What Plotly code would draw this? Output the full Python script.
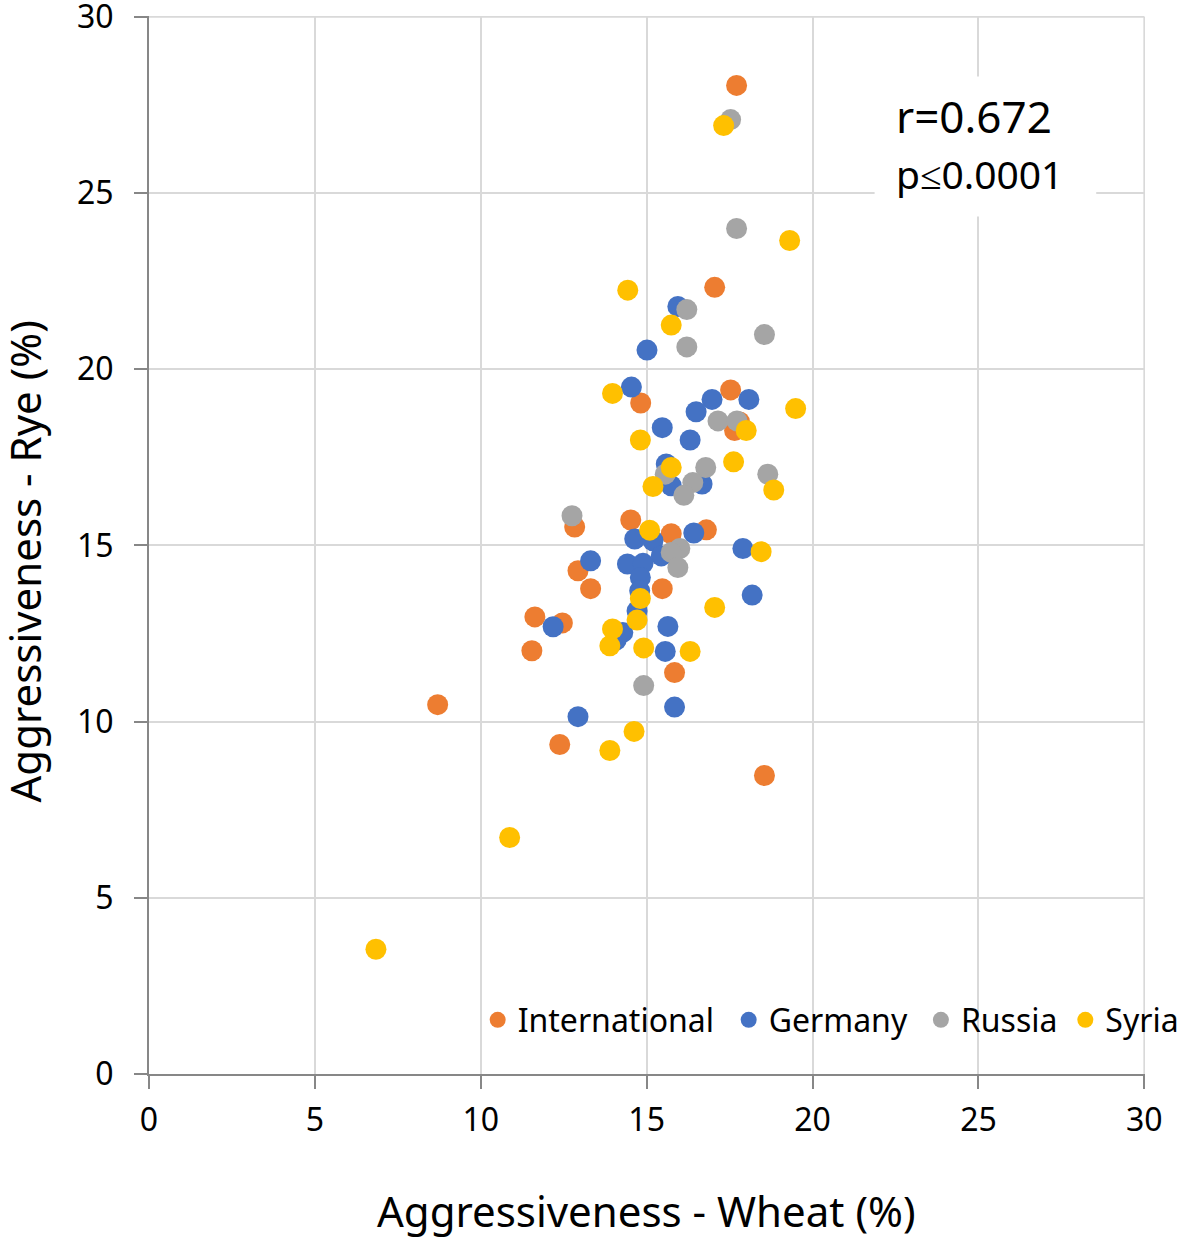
import plotly.graph_objects as go

# International
intl_x = [17.71, 17.05, 17.53, 14.82, 17.80, 17.65, 12.83, 14.52, 15.74, 16.80, 12.93, 13.31, 15.47, 11.63, 12.46, 11.54, 15.84, 8.70, 12.38, 18.55]
intl_y = [28.05, 22.32, 19.41, 19.04, 18.50, 18.26, 15.52, 15.72, 15.33, 15.44, 14.28, 13.77, 13.77, 12.97, 12.80, 12.01, 11.39, 10.48, 9.35, 8.47]

# Germany
ger_x = [15.94, 15.01, 14.54, 16.97, 18.08, 16.49, 15.47, 16.31, 15.59, 15.74, 16.67,
         14.64, 15.19, 16.42, 17.90, 15.44, 13.31, 14.42, 14.89, 14.81, 14.79, 18.18,
         14.71, 15.64, 12.18, 14.28, 14.08, 15.56, 15.84, 12.93]
ger_y = [21.78, 20.54, 19.49, 19.14, 19.14, 18.79, 18.34, 17.99, 17.31, 16.69, 16.74,
         15.18, 15.13, 15.35, 14.91, 14.70, 14.56, 14.47, 14.49, 14.09, 13.71, 13.59,
         13.14, 12.70, 12.69, 12.53, 12.31, 11.99, 10.41, 10.14]

# Russia
rus_x = [17.53, 17.71, 16.21, 16.21, 18.55, 17.15, 17.72, 18.65, 16.78, 16.39, 16.12, 15.56, 12.75, 16.00, 15.74, 15.94, 14.91]
rus_y = [27.08, 23.99, 21.69, 20.63, 20.98, 18.53, 18.53, 17.02, 17.21, 16.78, 16.42, 17.02, 15.84, 14.91, 14.80, 14.37, 11.02]

# Syria
syr_x = [17.32, 19.31, 14.43, 15.74, 13.97, 19.49, 18.00, 14.81, 17.62, 15.74, 18.83, 15.19,
         15.09, 18.45, 14.81, 17.05, 14.71, 13.97, 13.89, 14.91, 16.31, 14.62, 13.89, 10.87, 6.84]
syr_y = [26.91, 23.65, 22.24, 21.25, 19.31, 18.88, 18.26, 17.99, 17.37, 17.21, 16.57, 16.67,
         15.43, 14.82, 13.49, 13.24, 12.88, 12.63, 12.15, 12.09, 11.99, 9.72, 9.18, 6.71, 3.54]

tick_vals = [0, 5, 10, 15, 20, 25, 30]
x_title = "Aggressiveness - Wheat (%)"
y_title = "Aggressiveness - Rye (%)"

FONT = "Noto Sans"
series = [
    ("International", intl_x, intl_y, "#ED7D31", "legend", 0.330),
    ("Germany", ger_x, ger_y, "#4472C4", "legend2", 0.582),
    ("Russia", rus_x, rus_y, "#A5A5A5", "legend3", 0.775),
    ("Syria", syr_x, syr_y, "#FFC000", "legend4", 0.920),
]

fig = go.Figure()
legend_layouts = {}
for name, xs, ys, col, leg, lx in series:
    fig.add_trace(go.Scatter(x=xs, y=ys, mode="markers", name=name, legend=leg,
                             marker=dict(color=col, size=21, line=dict(width=0))))
    legend_layouts[leg] = dict(orientation="h", x=lx, xanchor="left", y=0.025, yanchor="bottom",
                               font=dict(family=FONT, size=32, color="#000000"),
                               bgcolor="rgba(0,0,0,0)", itemwidth=30)

axis_common = dict(
    range=[0, 30.02], tickvals=tick_vals, showgrid=True, gridcolor="#D9D9D9", gridwidth=2,
    showline=True, linecolor="#878787", linewidth=2, ticks="outside", ticklen=13,
    tickcolor="#878787", tickwidth=2, zeroline=False, automargin=False,
    ticklabeloverflow="allow",
    tickfont=dict(family=FONT, size=32, color="#000000"),
)

fig.update_layout(
    width=1181, height=1240,
    margin=dict(l=149, r=36, t=16, b=166, autoexpand=False),
    paper_bgcolor="white", plot_bgcolor="white",
    xaxis=dict(**axis_common, ticklabelstandoff=4),
    yaxis=dict(**axis_common, ticklabelstandoff=14),
    showlegend=True,
    **legend_layouts,
)

# axis titles
fig.add_annotation(x=0.499, y=-0.129, xref="paper", yref="paper", text=x_title, showarrow=False,
                   xanchor="center", yanchor="middle", font=dict(family=FONT, size=42, color="#000000"))
fig.add_annotation(x=-0.1245, y=0.4844, xref="paper", yref="paper", text=y_title, showarrow=False,
                   textangle=-90, xanchor="center", yanchor="middle",
                   font=dict(family=FONT, size=42, color="#000000"))

# grid lines at the far edges (x=30, y=30)
fig.add_shape(type="line", xref="x", yref="y", x0=30, x1=30, y0=0, y1=30,
              line=dict(color="#D9D9D9", width=2), layer="below")
fig.add_shape(type="line", xref="x", yref="y", x0=0, x1=30, y0=30, y1=30,
              line=dict(color="#D9D9D9", width=2), layer="below")

fig.add_shape(type="rect", xref="x", yref="y", x0=21.87, x1=28.55, y0=24.33, y1=28.3,
              fillcolor="white", line=dict(width=0), layer="above")
fig.add_annotation(x=22.45, y=27.19, xref="x", yref="y", text="r=0.672", showarrow=False,
                   xanchor="left", yanchor="middle", font=dict(family=FONT, size=44, color="#000000"))
fig.add_annotation(x=22.45, y=25.55, xref="x", yref="y", text="p≤0.0001", showarrow=False,
                   xanchor="left", yanchor="middle", font=dict(family=FONT, size=39, color="#000000"))

fig.write_html("out.html", config={"displayModeBar": False},
               post_script="document.body.style.margin='0';")
